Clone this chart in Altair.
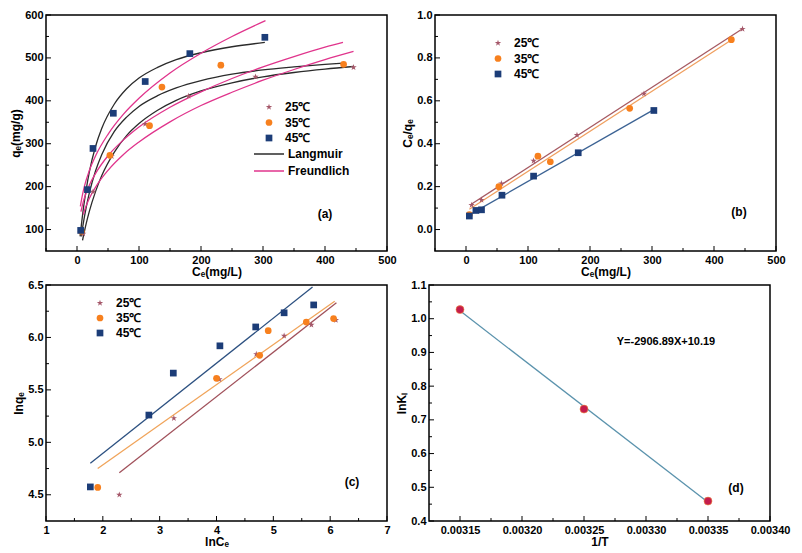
import altair as alt
import pandas as pd

# ---------------- data ----------------
temps = ["25℃", "35℃", "45℃"]
models = ["Langmuir", "Freundlich"]

# (a) qe vs Ce
a_ce_25 = [10, 25.8, 56, 110, 180, 288, 446]
a_qe_25 = [90, 188, 271, 346, 411, 456, 478]
a_ce_35 = [6.8, 53, 117, 137, 232, 430]
a_qe_35 = [96, 273, 342, 432, 483, 485]
a_ce_45 = [5.9, 16.8, 25.8, 58.6, 110, 182, 303]
a_qe_45 = [98, 193, 289, 371, 445, 510, 548]

# (a) fitted curves
lang_ce_25 = [9, 12, 15, 20, 30, 40, 60, 80, 100, 130, 160, 200, 250, 300, 350, 400, 446]
lang_qe_25 = [75, 96, 115, 143, 189, 226, 280, 319, 347, 378, 401, 423, 442, 456, 466, 474, 480]
lang_ce_35 = [7, 10, 15, 20, 30, 40, 60, 80, 100, 130, 160, 200, 250, 300, 350, 400, 430]
lang_qe_35 = [84, 113, 153, 186, 237, 275, 328, 362, 387, 412, 430, 447, 462, 472, 479, 485, 488]
lang_ce_45 = [5, 6, 10, 15, 20, 30, 40, 60, 80, 100, 130, 160, 200, 250, 303]
lang_qe_45 = [84, 97, 146, 195, 235, 294, 336, 392, 428, 453, 478, 496, 512, 526, 536]
freu_ce_25 = [10, 15, 20, 30, 50, 75, 100, 150, 200, 250, 300, 350, 400, 446]
freu_qe_25 = [135, 156, 173, 199, 238, 275, 304, 351, 389, 420, 448, 473, 496, 515]
freu_ce_35 = [6.4, 10, 15, 20, 30, 50, 75, 100, 150, 200, 250, 300, 350, 400, 429]
freu_qe_35 = [142, 164, 186, 204, 231, 272, 309, 339, 385, 421, 452, 479, 503, 525, 536]
freu_ce_45 = [5.4, 8, 12, 20, 30, 50, 75, 100, 150, 200, 250, 304]
freu_qe_45 = [154, 175, 201, 238, 272, 322, 369, 406, 465, 511, 550, 587]

# (b) Ce/qe vs Ce
b_ce_25 = [9, 25, 57, 109, 179, 287, 446]
b_r_25 = [0.114, 0.138, 0.215, 0.320, 0.440, 0.633, 0.935]
b_ce_35 = [5.4, 53, 116, 136, 264, 428]
b_r_35 = [0.070, 0.200, 0.342, 0.316, 0.565, 0.885]
b_ce_45 = [5.4, 16, 25, 58, 109, 181, 303]
b_r_45 = [0.063, 0.089, 0.092, 0.160, 0.249, 0.358, 0.555]

# (c) lnqe vs lnCe
c_x_25 = [2.29, 3.25, 4.05, 4.70, 5.19, 5.67, 6.10]
c_y_25 = [4.50, 5.23, 5.60, 5.84, 6.015, 6.12, 6.165]
c_x_35 = [1.91, 4.00, 4.76, 4.91, 5.58, 6.06]
c_y_35 = [4.57, 5.61, 5.83, 6.065, 6.147, 6.18]
c_x_45 = [1.78, 2.81, 3.24, 4.06, 4.69, 5.19, 5.71]
c_y_45 = [4.575, 5.26, 5.66, 5.92, 6.10, 6.235, 6.31]
# (c) drawn fit lines (end points)
c_fit_x_25 = [2.29, 6.11]
c_fit_y_25 = [4.71, 6.33]
c_fit_x_35 = [1.91, 6.08]
c_fit_y_35 = [4.75, 6.345]
c_fit_x_45 = [1.78, 5.69]
c_fit_y_45 = [4.80, 6.48]

# (d) lnKL vs 1/T
d_x = [0.00315, 0.00325, 0.00335]
d_y = [1.027, 0.732, 0.459]

# tick values
a_x_major = [0, 100, 200, 300, 400, 500]
a_x_minor = [-50, 50, 150, 250, 350, 450]
a_y_major = [100, 200, 300, 400, 500, 600]
a_y_minor = [150, 250, 350, 450, 550]
b_y_major = [0.0, 0.2, 0.4, 0.6, 0.8, 1.0]
b_y_minor = [0.1, 0.3, 0.5, 0.7, 0.9]
c_x_major = [1, 2, 3, 4, 5, 6, 7]
c_x_minor = [1.5, 2.5, 3.5, 4.5, 5.5, 6.5]
c_y_major = [4.5, 5.0, 5.5, 6.0, 6.5]
c_y_minor = [4.75, 5.25, 5.75, 6.25]
d_x_major = [0.00315, 0.0032, 0.00325, 0.0033, 0.00335, 0.0034]
d_x_minor = [0.003175, 0.003225, 0.003275, 0.003325, 0.003375]
d_y_major = [0.4, 0.5, 0.6, 0.7, 0.8, 0.9, 1.0, 1.1]
d_y_minor = [0.45, 0.55, 0.65, 0.75, 0.85, 0.95, 1.05]

# ---------------- styling ----------------
W, H = 341, 236
FONT = "Liberation Sans"
STAR = ("M0,-1L0.2245,-0.309L0.9511,-0.309L0.3633,0.118L0.5878,0.809L0,0.382"
        "L-0.5878,0.809L-0.3633,0.118L-0.9511,-0.309L-0.2245,-0.309Z")
LONG_LINE = "M-3,0H3"
PT_COLORS = ["#a5586a", "#f7801e", "#1c3d78"]
SHAPES = [STAR, "circle", "square"]
B_LINE_COLORS = ["#a65a62", "#f0a060", "#3c6394"]
C_LINE_COLORS = ["#a0505a", "#f0a45a", "#2c5080"]


def frame(xs, ys, label, key):
    return pd.DataFrame({"x": xs, "y": ys, key: label})


class Panel:
    def __init__(self, key, xdom, ydom, xtitle, ytitle, xmaj, xmin, ymaj, ymin, xfmt, yfmt):
        self.key = key
        self.sx = alt.Scale(domain=xdom, nice=False, zero=False)
        self.sy = alt.Scale(domain=ydom, nice=False, zero=False)
        self.ax = alt.Axis(values=xmaj, format=xfmt, labelFlush=False, title=xtitle)
        self.ay = alt.Axis(values=ymaj, format=yfmt, labelFlush=False, title=ytitle)
        self.xmaj, self.xmin, self.ymaj, self.ymin = xmaj, xmin, ymaj, ymin

    def X(self, field="x:Q"):
        return alt.X(field, scale=self.sx, axis=self.ax)

    def Y(self, field="y:Q"):
        return alt.Y(field, scale=self.sy, axis=self.ay)

    def ticks(self):
        layers = []
        for vals, L in ((self.xmaj, 5), (self.xmin, 3)):
            layers.append(
                alt.Chart(pd.DataFrame({"x": vals})).mark_rule(color="black", strokeWidth=1).encode(
                    x=self.X(), y=alt.value(H), y2=alt.value(H - L)))
        for vals, L in ((self.ymaj, 5), (self.ymin, 3)):
            layers.append(
                alt.Chart(pd.DataFrame({"y": vals})).mark_rule(color="black", strokeWidth=1).encode(
                    y=self.Y(), x=alt.value(0), x2=alt.value(L)))
        return layers

    def points(self, df, lx, ly, rowpad=3.5):
        leg = alt.Legend(title=None, orient="none", legendX=lx, legendY=ly, padding=0,
                         rowPadding=rowpad, labelOffset=10, symbolStrokeWidth=0, symbolSize=45)
        f = self.key + ":N"
        return alt.Chart(df).mark_point(filled=True, size=45, opacity=1).encode(
            x=self.X(), y=self.Y(),
            fill=alt.Fill(f, scale=alt.Scale(domain=temps, range=PT_COLORS), legend=leg),
            shape=alt.Shape(f, scale=alt.Scale(domain=temps, range=SHAPES), legend=leg),
        )


def label(text, px, py, size=12):
    return alt.Chart(pd.DataFrame({"t": [text]})).mark_text(
        font=FONT, fontWeight="bold", fontSize=size, color="black").encode(
        text="t:N", x=alt.value(px), y=alt.value(py))


# ---------------- panel (a) ----------------
pa = Panel("Ta", [-50, 500], [50, 600], "Cₑ(mg/L)", "qₑ(mg/g)", a_x_major, a_x_minor,
           a_y_major, a_y_minor, "d", "d")
a_pts = pd.concat([frame(a_ce_25, a_qe_25, temps[0], "Ta"), frame(a_ce_35, a_qe_35, temps[1], "Ta"),
                   frame(a_ce_45, a_qe_45, temps[2], "Ta")])
curves = []
for m, lists in (("Langmuir", [(lang_ce_25, lang_qe_25), (lang_ce_35, lang_qe_35), (lang_ce_45, lang_qe_45)]),
                 ("Freundlich", [(freu_ce_25, freu_qe_25), (freu_ce_35, freu_qe_35), (freu_ce_45, freu_qe_45)])):
    for t, (xs, ys) in zip(temps, lists):
        curves.append(pd.DataFrame({"x": xs, "y": ys, "model": m, "curve": m + t}))
a_curves = pd.concat(curves)

a_lines = alt.Chart(a_curves).mark_line(strokeWidth=1.3, interpolate="monotone").encode(
    x=pa.X(), y=pa.Y(),
    stroke=alt.Stroke("model:N", scale=alt.Scale(domain=models, range=["#2b2b2b", "#e0348c"]),
                      legend=alt.Legend(title=None, orient="none", legendX=217, legendY=133,
                                        padding=0, rowPadding=5, symbolType=LONG_LINE,
                                        symbolSize=100, symbolStrokeWidth=1.5, labelOffset=13)),
    detail="curve:N")
panel_a = alt.layer(*pa.ticks(), a_lines, pa.points(a_pts, 217, 86),
                    label("(a)", 279, 199)).properties(width=W, height=H)

# ---------------- panel (b) ----------------
pb = Panel("Tb", [-50, 500], [-0.1, 1.0], "Cₑ(mg/L)", "Cₑ/qₑ", a_x_major, a_x_minor,
           b_y_major, b_y_minor, "d", ".1f")
b_pts = pd.concat([frame(b_ce_25, b_r_25, temps[0], "Tb"), frame(b_ce_35, b_r_35, temps[1], "Tb"),
                   frame(b_ce_45, b_r_45, temps[2], "Tb")])
b_lines = [
    alt.Chart(b_pts).transform_filter(alt.datum.Tb == t).transform_regression("x", "y")
    .mark_line(strokeWidth=1.3, color=c).encode(x=pb.X(), y=pb.Y())
    for t, c in zip(temps, B_LINE_COLORS)
]
panel_b = alt.layer(*pb.ticks(), *b_lines, pb.points(b_pts, 57, 22),
                    label("(b)", 304, 197)).properties(width=W, height=H)

# ---------------- panel (c) ----------------
pc = Panel("Tc", [1, 7], [4.25, 6.5], "lnCₑ", "lnqₑ", c_x_major, c_x_minor,
           c_y_major, c_y_minor, "d", ".1f")
c_pts = pd.concat([frame(c_x_25, c_y_25, temps[0], "Tc"), frame(c_x_35, c_y_35, temps[1], "Tc"),
                   frame(c_x_45, c_y_45, temps[2], "Tc")])
c_fits = [(c_fit_x_25, c_fit_y_25), (c_fit_x_35, c_fit_y_35), (c_fit_x_45, c_fit_y_45)]
c_lines = [
    alt.Chart(pd.DataFrame({"x": xs, "y": ys})).mark_line(strokeWidth=1.3, color=c).encode(
        x=pc.X(), y=pc.Y())
    for (xs, ys), c in zip(c_fits, C_LINE_COLORS)
]
panel_c = alt.layer(*pc.ticks(), *c_lines, pc.points(c_pts, 48, 12, 3),
                    label("(c)", 306, 197)).properties(width=W, height=H)

# ---------------- panel (d) ----------------
pd_ = Panel("Td", [0.003125, 0.0034], [0.4, 1.1], "1/T", "lnKₗ", d_x_major, d_x_minor,
            d_y_major, d_y_minor, ".5f", ".1f")
d_df = pd.DataFrame({"x": d_x, "y": d_y})
d_line = alt.Chart(d_df).transform_regression("x", "y").mark_line(
    color="#5b93ad", strokeWidth=1.3).encode(x=pd_.X(), y=pd_.Y())
d_p = alt.Chart(d_df).mark_circle(size=64, color="#c41c4c", opacity=1,
                                  stroke="#f08a3c", strokeWidth=0.6).encode(x=pd_.X(), y=pd_.Y())
panel_d = alt.layer(*pd_.ticks(), d_line, d_p, label("Y=-2906.89X+10.19", 237, 57, 11),
                    label("(d)", 307, 203)).properties(width=W, height=H)

RES = dict(fill="independent", shape="independent", stroke="independent")
top = alt.hconcat(panel_a, panel_b, spacing=3).resolve_scale(**RES).resolve_legend(**RES)
bottom = alt.hconcat(panel_c, panel_d, spacing=3).resolve_scale(**RES).resolve_legend(**RES)
chart = alt.vconcat(top, bottom, spacing=0).resolve_scale(**RES).resolve_legend(**RES).properties(
    padding={"left": 0, "top": 0, "right": 0, "bottom": 0}
).configure_view(
    stroke="black", strokeWidth=1.5
).configure_axis(
    grid=False, domain=False, ticks=False, labelFont=FONT, labelFontWeight="bold",
    labelFontSize=11, labelColor="black", labelPadding=3, titleFont=FONT, titleFontSize=12,
    titleFontWeight="bold", titleColor="black"
).configure_axisX(titlePadding=1).configure_axisY(titlePadding=2).configure_legend(
    labelFont=FONT, labelFontSize=12, labelFontWeight="bold", labelColor="black"
)

chart.save("out.html", embed_options={"renderer": "svg", "actions": False})
